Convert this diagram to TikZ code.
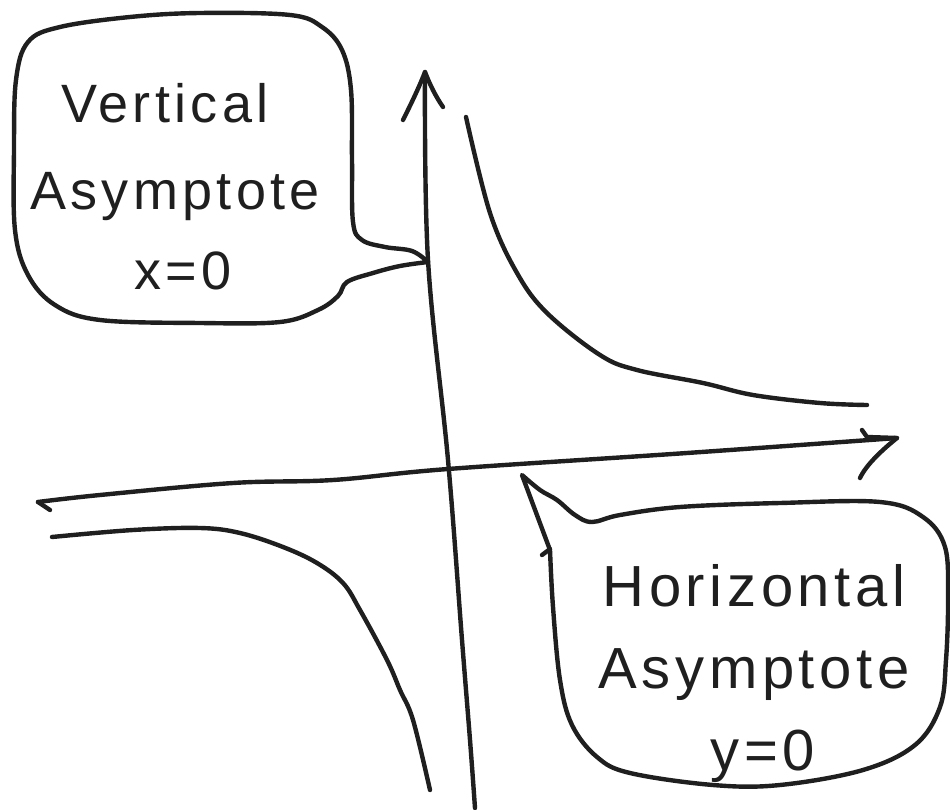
\documentclass[tikz,border=0pt]{standalone}
\usepackage{fontspec}
\setmainfont{Liberation Sans}[LetterSpace=8]
\begin{document}
\begin{tikzpicture}[x=1pt,y=-1pt,
  ink/.style={line width=4.4pt, line cap=round, line join=round, black!88},
  lbl/.style={anchor=base, inner sep=0pt, text=black!88},
  big/.style={font=\fontsize{54}{60}\selectfont},
  bigger/.style={font=\fontsize{58}{64}\selectfont}]
\useasboundingbox (0,0) rectangle (950,810);

% named points
\coordinate (ytop) at (425,72);
\coordinate (ybot) at (475,808);
\coordinate (xleft) at (38,502);
\coordinate (xright) at (897,438);
\coordinate (tipA) at (428,262);
\coordinate (tipB) at (522,475);

% vertical axis
\draw[ink] plot[smooth, tension=0.6] coordinates {(ybot) (470,740) (462,640) (448,460) (428,260) (ytop)};
\draw[ink] (403,120) .. controls (413,100) and (420,85) .. (ytop) .. controls (430,85) and (436,97) .. (443,107);

% horizontal axis
\draw[ink] (50,510) -- (xleft);
\draw[ink] plot[smooth, tension=0.6] coordinates {(xleft) (100,495) (233,483) (333,480) (448,469) (687,453) (xright)};
\draw[ink] (862,430) -- (867,437) -- (xright) .. controls (882,450) and (866,465) .. (860,478);

% upper-right branch
\draw[ink] plot[smooth, tension=0.6] coordinates {(466,117) (490,213) (517,273) (547,313) (600,355) (637,370) (703,383) (753,395) (820,403) (867,405)};

% lower-left branch
\draw[ink] plot[smooth, tension=0.6] coordinates {(52,537) (133,530) (200,528) (240,533) (283,547) (317,563) (343,583) (360,610) (387,660) (400,690) (413,720) (430,790)};

% callout 1
\draw[ink] plot[smooth, tension=0.6] coordinates {(tipA) (400,266) (373,273) (347,282) (338,296) (318,310) (280,322) (200,323) (100,320) (55,305) (28,275) (15,230) (14,150) (16,80) (28,42) (60,27) (130,17) (200,13) (290,15) (322,27) (342,50) (351,90) (352,160) (353,222) (362,240) (385,247) (412,251) (tipA)};

% callout 2
\draw[ink] plot[smooth, tension=0.6] coordinates {(tipB) (540,490) (557,500) (575,515) (592,522) (620,515) (680,507) (780,503) (880,502) (923,517) (945,547) (948,600) (946,660) (940,707) (915,745) (863,770) (780,785) (713,785) (630,773) (597,757) (572,725) (560,680) (553,607) (550,550)} -- cycle;
\draw[ink] (542,555) -- (550,549);

% texts
\node[lbl,big] (va1) at (165,123) {Vertical};
\node[lbl,big] (va2) at (175,210) {Asymptote};
\node[lbl,big] (va3) at (183,290) {x=0};
\node[lbl,bigger] (ha1) at (754,606) {Horizontal};
\node[lbl,bigger] (ha2) at (754,688) {Asymptote};
\node[lbl,bigger] (ha3) at (763,770) {y=0};
\end{tikzpicture}
\end{document}
